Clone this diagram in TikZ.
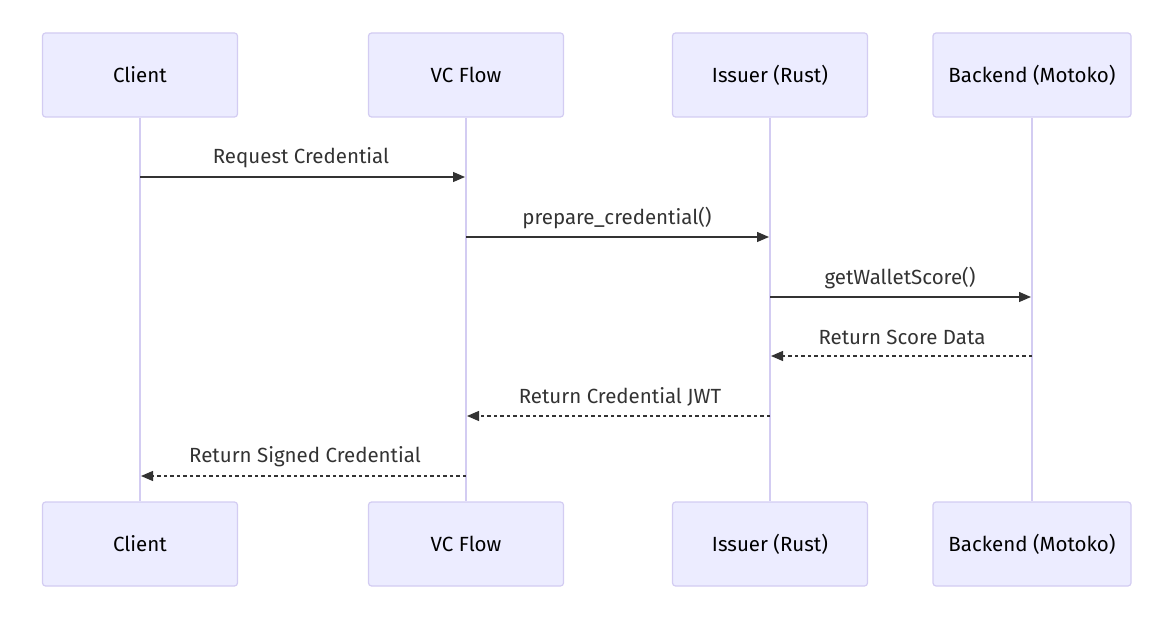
\documentclass[tikz,border=0pt]{standalone}
\usepackage{fontspec}
\setmainfont{Fira Sans}
\usetikzlibrary{arrows.meta}
\definecolor{actfill}{HTML}{ECECFF}
\definecolor{actline}{HTML}{D3CCF2}
\definecolor{msg}{HTML}{333333}
\tikzset{
  actor/.style={draw=actline, fill=actfill, line width=1.2pt, rounded corners=3pt, minimum width=195pt, minimum height=84pt, inner sep=0pt, font=\fontsize{20.5}{24}\selectfont, text=black},
  life/.style={draw=actline, line width=1.6pt},
  solidmsg/.style={draw=msg, line width=1.3pt, -{Triangle[length=12pt,width=10pt]}},
  dashmsg/.style={draw=msg, line width=1.3pt, dash pattern=on 3.5pt off 3pt, -{Triangle[length=12pt,width=10pt]}},
  lbl/.style={font=\fontsize{20.5}{24}\selectfont, text=msg, inner sep=0pt}
}
\begin{document}
\begin{tikzpicture}[x=1pt,y=-1pt]
\useasboundingbox (0,0) rectangle (1171,628);
% top actors
\node[actor] (ct) at (140,75) {Client};
\node[actor] (vt) at (466,75) {VC Flow};
\node[actor] (it) at (770,75) {Issuer (Rust)};
\node[actor, minimum width=198pt] (bt) at (1032,75) {Backend (Motoko)};
% bottom actors
\node[actor] (cb) at (140,544) {Client};
\node[actor] (vb) at (466,544) {VC Flow};
\node[actor] (ib) at (770,544) {Issuer (Rust)};
\node[actor, minimum width=198pt] (bb) at (1032,544) {Backend (Motoko)};
% lifelines
\draw[life] (ct.south) -- (cb.north);
\draw[life] (vt.south) -- (vb.north);
\draw[life] (it.south) -- (ib.north);
\draw[life] (bt.south) -- (bb.north);
% message coordinates
\coordinate (c1) at (140,177); \coordinate (v1) at (465,177);
\coordinate (v2) at (466,237); \coordinate (i2) at (769,237);
\coordinate (i3) at (770,297); \coordinate (b3) at (1031,297);
\coordinate (b4) at (1032,356); \coordinate (i4) at (771,356);
\coordinate (i5) at (770,416); \coordinate (v5) at (467,416);
\coordinate (v6) at (466,476); \coordinate (c6) at (141,476);
\draw[solidmsg] (c1) -- (v1);
\draw[solidmsg] (v2) -- (i2);
\draw[solidmsg] (i3) -- (b3);
\draw[dashmsg] (b4) -- (i4);
\draw[dashmsg] (i5) -- (v5);
\draw[dashmsg] (v6) -- (c6);
\node[lbl] (l1) at (301,158) {Request Credential};
\node[lbl] (l2) at (617,218) {prepare\_credential()};
\node[lbl] (l3) at (900,278) {getWalletScore()};
\node[lbl] (l4) at (902,337) {Return Score Data};
\node[lbl] (l5) at (620,397) {Return Credential JWT};
\node[lbl] (l6) at (305,457) {Return Signed Credential};
\end{tikzpicture}
\end{document}
